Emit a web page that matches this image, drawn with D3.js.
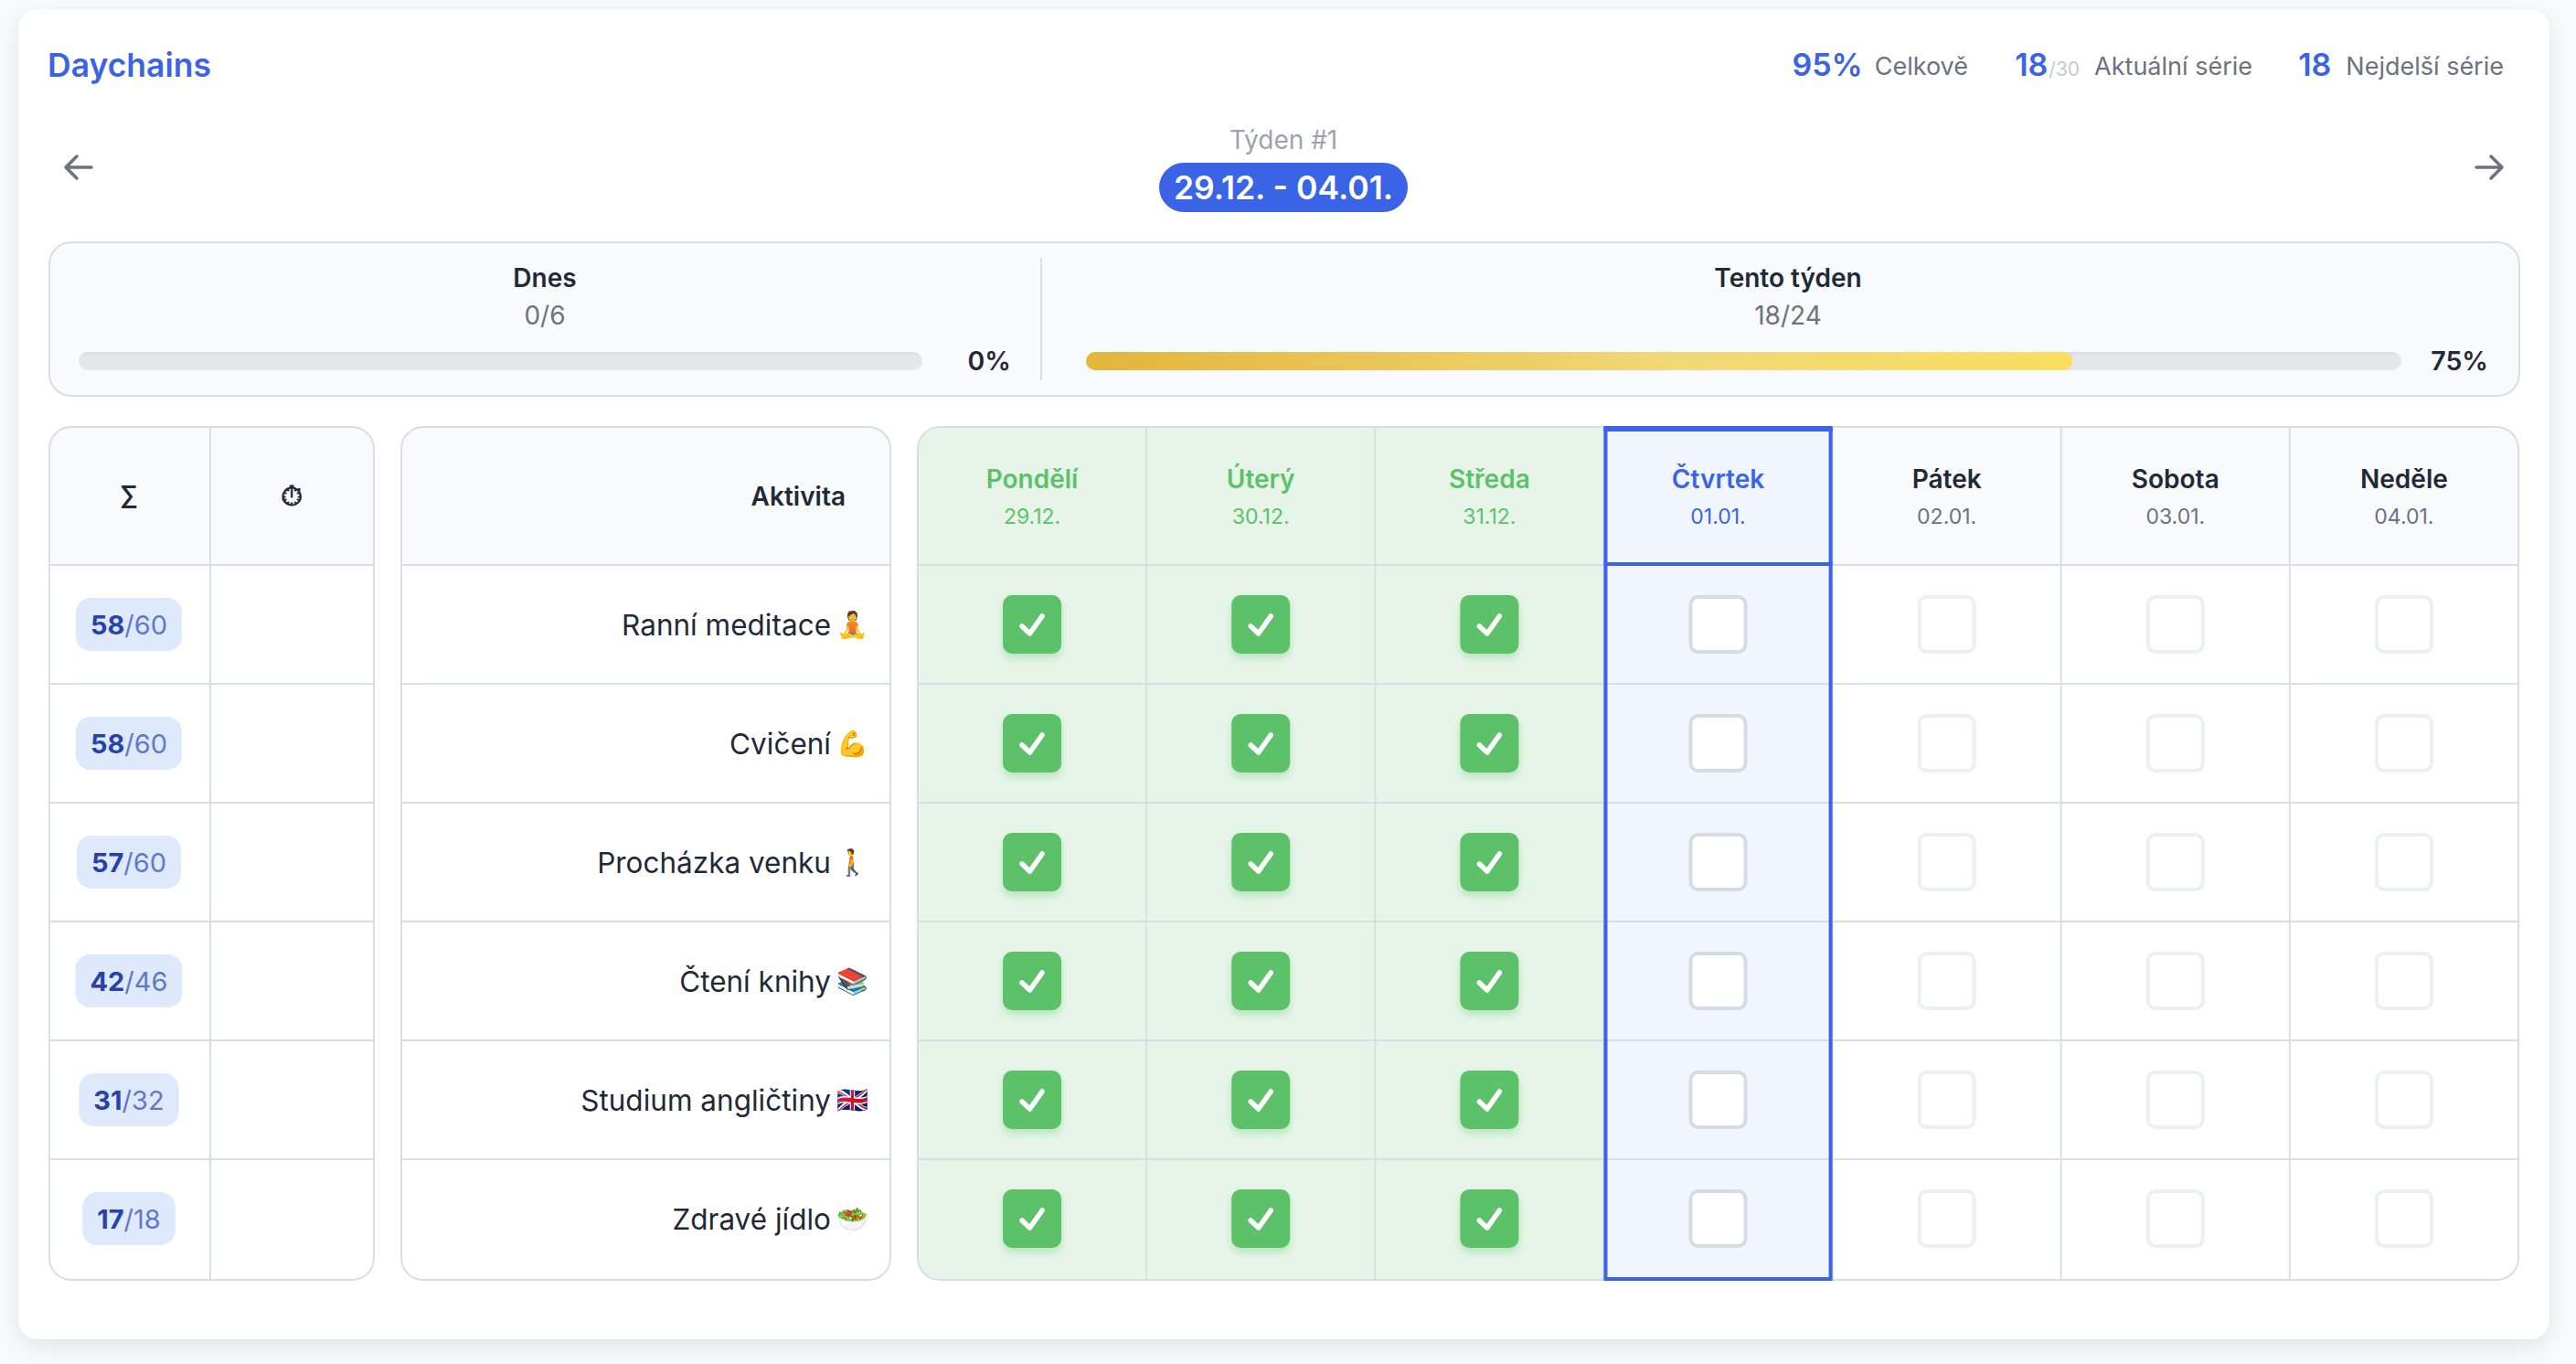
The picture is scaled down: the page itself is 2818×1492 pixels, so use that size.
<!DOCTYPE html>
<html>
<head>
<meta charset="utf-8">
<script src="https://cdn.jsdelivr.net/npm/d3@7"></script>
<style>
  html, body { margin: 0; background: #f9fafb; }
  svg { display: block; }
  text { font-family: Inter, "Noto Sans", sans-serif; }
</style>
</head>
<body>
<svg id="chart" width="2818" height="1492"></svg>
<script>
// data
const days = ["Pondělí", "Úterý", "Středa", "Čtvrtek", "Pátek", "Sobota", "Neděle"];
const dates = ["29.12.", "30.12.", "31.12.", "01.01.", "02.01.", "03.01.", "04.01."];
const activities = ["Ranní meditace", "Cvičení", "Procházka venku", "Čtení knihy", "Studium angličtiny", "Zdravé jídlo"];
const emojis = ["🧘", "💪", "🚶", "📚", "🇬🇧", "🥗"];
const doneCounts = [58, 58, 57, 42, 31, 17];
const totalCounts = [60, 60, 60, 46, 32, 18];
const doneDays = [1, 1, 1, 0, 0, 0, 0]; // same for every activity this week
const todayIndex = 3;

const dayProgress = { label: "Dnes", done: 0, total: 6 };
const weekProgress = { label: "Tento týden", done: 18, total: 24 };
const stats = [
  { value: "95%", sub: "", label: "Celkově" },
  { value: "18", sub: "/30", label: "Aktuální série" },
  { value: "18", sub: "", label: "Nejdelší série" }
];

const blue = "#3b63e6";
const green = "#5dc16a";
const line = "#d8dee8";
const ink = "#1f2937";
const gray = "#6b7280";

const svg = d3.select("#chart");
const defs = svg.append("defs");

const cardShadow = defs.append("filter").attr("id", "cardShadow")
  .attr("x", "-5%").attr("y", "-5%").attr("width", "110%").attr("height", "110%");
cardShadow.append("feDropShadow").attr("dx", 0).attr("dy", 8).attr("stdDeviation", 12)
  .attr("flood-color", "#000").attr("flood-opacity", 0.09);

const boxShadow = defs.append("filter").attr("id", "boxShadow")
  .attr("x", "-30%").attr("y", "-30%").attr("width", "160%").attr("height", "160%");
boxShadow.append("feDropShadow").attr("dx", 0).attr("dy", 5).attr("stdDeviation", 5)
  .attr("flood-color", green).attr("flood-opacity", 0.35);

const barGrad = defs.append("linearGradient").attr("id", "barGrad");
barGrad.append("stop").attr("offset", "0%").attr("stop-color", "#e3b53c");
barGrad.append("stop").attr("offset", "60%").attr("stop-color", "#f1d878");
barGrad.append("stop").attr("offset", "100%").attr("stop-color", "#f8dd5f");

const trackGrad = defs.append("linearGradient").attr("id", "trackGrad")
  .attr("x1", 0).attr("x2", 0).attr("y1", 0).attr("y2", 1);
trackGrad.append("stop").attr("offset", "0%").attr("stop-color", "#d9dbe0");
trackGrad.append("stop").attr("offset", "20%").attr("stop-color", "#e4e6ea");
trackGrad.append("stop").attr("offset", "100%").attr("stop-color", "#e5e7eb");

function label(g, x, y, str, size, weight, color, anchor) {
  return g.append("text")
    .attr("x", x).attr("y", y)
    .attr("text-anchor", anchor || "middle")
    .attr("font-size", size)
    .attr("font-weight", weight)
    .attr("fill", color)
    .text(str);
}

// card
svg.append("rect")
  .attr("x", 20).attr("y", 10).attr("width", 2769).attr("height", 1455).attr("rx", 22)
  .attr("fill", "#fff").attr("filter", "url(#cardShadow)");

// title row
label(svg, 52, 84, "Daychains", 35.5, 600, blue, "start");

const statEnds = [2153, 2464, 2739];
const statRow = svg.append("g");
stats.forEach((s, i) => {
  const t = label(statRow, statEnds[i], 82, s.label, 27, 400, gray, "end");
  const labelLeft = statEnds[i] - t.node().getComputedTextLength();
  let right = labelLeft - (i === 0 ? 13 : 16);
  if (s.sub) {
    const st = label(statRow, right, 83, s.sub, 21, 400, "#c3c9d3", "end");
    right -= st.node().getComputedTextLength() + 1;
  }
  label(statRow, right, 83, s.value, 34, 600, blue, "end");
});

// week switcher
label(svg, 1404, 163, "Týden #1", 28, 400, "#9ca3af");
svg.append("rect")
  .attr("x", 1268).attr("y", 178).attr("width", 272).attr("height", 54).attr("rx", 27)
  .attr("fill", blue);
label(svg, 1404, 218, "29.12. - 04.01.", 35.5, 600, "#fff");

const arrows = [
  { x: 86, dir: -1 },
  { x: 2723, dir: 1 }
];
arrows.forEach(a => {
  const path = d3.path();
  path.moveTo(a.x - a.dir * 14, 183);
  path.lineTo(a.x + a.dir * 14, 183);
  path.moveTo(a.x + a.dir * 2, 171);
  path.lineTo(a.x + a.dir * 14, 183);
  path.lineTo(a.x + a.dir * 2, 195);
  svg.append("path").attr("d", path.toString())
    .attr("fill", "none").attr("stroke", gray)
    .attr("stroke-width", 3.5).attr("stroke-linecap", "round").attr("stroke-linejoin", "round");
});

// progress panel
const panel = svg.append("g");
panel.append("rect")
  .attr("x", 54).attr("y", 265).attr("width", 2702).attr("height", 168).attr("rx", 24)
  .attr("fill", "#f9fafb").attr("stroke", line).attr("stroke-width", 2);
panel.append("line")
  .attr("x1", 1139).attr("x2", 1139).attr("y1", 282).attr("y2", 416)
  .attr("stroke", line).attr("stroke-width", 2);

const progressBars = [
  { p: dayProgress, x0: 86, x1: 1009, cx: 596, pctX: 1106 },
  { p: weekProgress, x0: 1188, x1: 2627, cx: 1956, pctX: 2722 }
];
progressBars.forEach(b => {
  const scale = d3.scaleLinear().domain([0, b.p.total]).range([b.x0, b.x1]);
  label(panel, b.cx, 313.5, b.p.label, 28, 600, ink);
  label(panel, b.cx, 355, `${b.p.done}/${b.p.total}`, 28, 400, gray);
  panel.append("rect")
    .attr("x", scale(0)).attr("y", 385).attr("width", scale(b.p.total) - scale(0)).attr("height", 20).attr("rx", 10)
    .attr("fill", "url(#trackGrad)");
  if (b.p.done > 0) {
    panel.append("rect")
      .attr("x", scale(0)).attr("y", 385).attr("width", scale(b.p.done) - scale(0)).attr("height", 20).attr("rx", 10)
      .attr("fill", "url(#barGrad)");
  }
  label(panel, b.pctX, 405, `${Math.round(b.p.done / b.p.total * 100)}%`, 28.5, 600, ink, "end");
});

// tables
const tableTop = 467;
const headerBottom = 618;
const rowsBottom = 1398;
const tableBottom = 1400;

const rowY = d3.scaleBand().domain(activities).range([headerBottom, rowsBottom]);
const dayX = d3.scaleBand().domain(days).range([1004, 2755]);

function tableFrame(id, x0, x1, headerFill) {
  const g = svg.append("g");
  defs.append("clipPath").attr("id", id).append("rect")
    .attr("x", x0).attr("y", tableTop).attr("width", x1 - x0).attr("height", tableBottom - tableTop).attr("rx", 24);
  const body = g.append("g").attr("clip-path", `url(#${id})`);
  body.append("rect")
    .attr("x", x0).attr("y", tableTop).attr("width", x1 - x0).attr("height", headerBottom - tableTop)
    .attr("fill", headerFill);
  return { g, body, x0, x1 };
}

function tableLines(t) {
  t.body.selectAll("line.row")
    .data(activities)
    .join("line").attr("class", "row")
    .attr("x1", t.x0).attr("x2", t.x1)
    .attr("y1", d => rowY(d)).attr("y2", d => rowY(d))
    .attr("stroke", line).attr("stroke-width", 2);
  t.g.append("rect")
    .attr("x", t.x0).attr("y", tableTop)
    .attr("width", t.x1 - t.x0).attr("height", tableBottom - tableTop).attr("rx", 24)
    .attr("fill", "none").attr("stroke", line).attr("stroke-width", 2);
}

// totals table
const totals = tableFrame("clipTotals", 54, 409, "#f9fafb");
tableLines(totals);
totals.body.append("line")
  .attr("x1", 230).attr("x2", 230).attr("y1", tableTop).attr("y2", tableBottom)
  .attr("stroke", line).attr("stroke-width", 2);
label(totals.g, 141, 552, "∑", 28, 600, ink);
label(totals.g, 319, 553, "⏱", 31, 600, ink);

activities.forEach((a, i) => {
  const cy = rowY(a) + rowY.bandwidth() / 2;
  const g = totals.g.append("g");
  const pill = g.append("rect").attr("fill", "#dfe9fc");
  const t = g.append("text").attr("x", 141).attr("y", cy + 11).attr("text-anchor", "middle").attr("font-size", 29);
  t.append("tspan").attr("font-weight", 700).attr("fill", "#2841ab").text(doneCounts[i]);
  t.append("tspan").attr("font-weight", 400).attr("fill", "#5f78cc").text("/" + totalCounts[i]);
  const w = t.node().getComputedTextLength() + 32;
  pill.attr("x", 141 - w / 2).attr("y", cy - 29).attr("width", w).attr("height", 58).attr("rx", 16);
});

// activity names
const names = tableFrame("clipNames", 439, 974, "#f9fafb");
tableLines(names);
label(names.g, 925, 553, "Aktivita", 28, 600, ink, "end");
activities.forEach((a, i) => {
  const cy = rowY(a) + rowY.bandwidth() / 2;
  label(names.g, 909, cy + 11.5, a, 31.5, 400, ink, "end");
  label(names.g, 950, cy + 10, emojis[i], 28, 400, ink, "end");
});

// days table
const week = tableFrame("clipDays", 1004, 2755, "#f9fafb");
week.body.selectAll("rect.col")
  .data(days)
  .join("rect").attr("class", "col")
  .attr("x", d => dayX(d)).attr("y", tableTop)
  .attr("width", dayX.bandwidth()).attr("height", tableBottom - tableTop)
  .attr("fill", (d, i) => doneDays[i] ? "#e7f5e9" : i === todayIndex ? "#f0f5fe" : "none");
tableLines(week);
week.body.selectAll("line.col")
  .data(days.slice(1))
  .join("line").attr("class", "col")
  .attr("x1", d => dayX(d)).attr("x2", d => dayX(d))
  .attr("y1", tableTop).attr("y2", tableBottom)
  .attr("stroke", line).attr("stroke-width", 2);

days.forEach((d, i) => {
  const cx = dayX(d) + dayX.bandwidth() / 2;
  const nameColor = doneDays[i] ? green : i === todayIndex ? blue : ink;
  const dateColor = doneDays[i] ? green : i === todayIndex ? blue : gray;
  label(week.g, cx, 534, d, 28, 600, nameColor);
  label(week.g, cx, 573, dates[i], 23, 400, dateColor);

  activities.forEach(a => {
    const cy = rowY(a) + rowY.bandwidth() / 2;
    if (doneDays[i]) {
      week.g.append("rect")
        .attr("x", cx - 32).attr("y", cy - 32).attr("width", 64).attr("height", 64).attr("rx", 10)
        .attr("fill", green).attr("filter", "url(#boxShadow)");
      const check = d3.path();
      check.moveTo(cx - 11, cy + 2);
      check.lineTo(cx - 2.5, cy + 10);
      check.lineTo(cx + 11, cy - 9);
      week.g.append("path").attr("d", check.toString())
        .attr("fill", "none").attr("stroke", "#fff").attr("stroke-width", 5.5)
        .attr("stroke-linecap", "round").attr("stroke-linejoin", "round");
    } else {
      week.g.append("rect")
        .attr("x", cx - 30).attr("y", cy - 30).attr("width", 60).attr("height", 60).attr("rx", 8)
        .attr("fill", "#fff")
        .attr("stroke", i === todayIndex ? "#d6dce4" : "#ecEff4").attr("stroke-width", 4);
    }
  });
});

// today highlight
const todayX = dayX(days[todayIndex]);
week.g.append("rect")
  .attr("x", todayX + 2).attr("y", tableTop + 2)
  .attr("width", dayX.bandwidth() - 4).attr("height", tableBottom - tableTop - 3)
  .attr("fill", "none").attr("stroke", blue).attr("stroke-width", 4);
week.g.append("rect")
  .attr("x", todayX).attr("y", tableTop - 1).attr("width", dayX.bandwidth()).attr("height", 6).attr("fill", blue);
week.g.append("rect")
  .attr("x", todayX).attr("y", headerBottom - 3).attr("width", dayX.bandwidth()).attr("height", 4).attr("fill", blue);
</script>
</body>
</html>
